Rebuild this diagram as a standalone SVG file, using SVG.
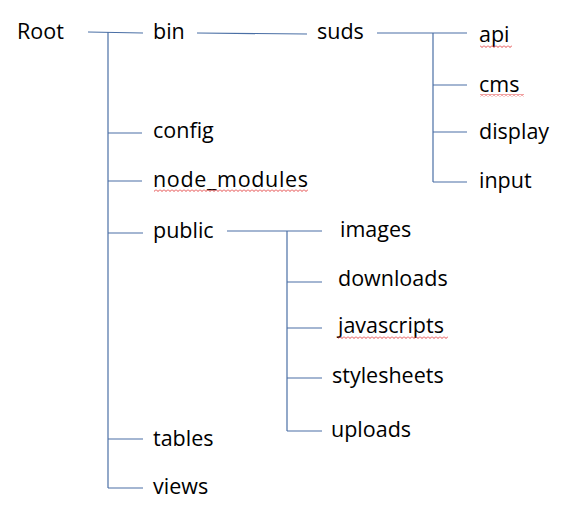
<svg xmlns="http://www.w3.org/2000/svg" width="565" height="524" viewBox="0 0 565 524">
<defs>
<pattern id="sq" patternUnits="userSpaceOnUse" x="0" y="0" width="4" height="3">
<path d="M0 0.5 L2 2.5 L4 0.5" stroke="#e03030" stroke-width="0.9" fill="none"/>
</pattern>
</defs>
<style>
text{font-family:"Open Sans","Noto Sans",sans-serif;font-size:21.5px;fill:#000}
.c line{stroke:#4a6fa5;stroke-width:1.2;fill:none}
.sq{fill:url(#sq)}
</style>
<rect width="565" height="524" fill="#fff"/>
<g class="c" id="connectors">
<line x1="88" y1="32" x2="143" y2="33"/>
<line x1="108" y1="32" x2="108" y2="488"/>
<line x1="108" y1="133" x2="142" y2="133"/>
<line x1="108" y1="181" x2="142" y2="181"/>
<line x1="108" y1="233" x2="143" y2="233"/>
<line x1="108" y1="439" x2="143" y2="439"/>
<line x1="108" y1="488" x2="143" y2="488"/>
<line x1="197" y1="33" x2="307" y2="34"/>
<line x1="377" y1="33" x2="467" y2="33"/>
<line x1="433" y1="33" x2="433" y2="182"/>
<line x1="433" y1="85" x2="467" y2="85"/>
<line x1="433" y1="132" x2="467" y2="132"/>
<line x1="433" y1="182" x2="467" y2="182"/>
<line x1="227" y1="231" x2="322" y2="231"/>
<line x1="287" y1="231" x2="287" y2="431"/>
<line x1="287" y1="282" x2="322" y2="282"/>
<line x1="287" y1="328" x2="322" y2="328"/>
<line x1="287" y1="378" x2="322" y2="378"/>
<line x1="287" y1="431" x2="322" y2="431"/>
</g>
<g id="root"><text x="17" y="39">Root</text></g>
<g id="bin"><text x="153" y="39">bin</text></g>
<g id="suds"><text x="317" y="39">suds</text></g>
<g id="api"><text x="479" y="42">api</text><rect class="sq" x="480" y="45" width="32" height="3"/></g>
<g id="cms"><text x="479" y="92">cms</text><rect class="sq" x="480" y="94" width="44" height="3"/></g>
<g id="display"><text x="479" y="139">display</text></g>
<g id="input"><text x="479" y="188">input</text></g>
<g id="config"><text x="153" y="138">config</text></g>
<g id="node_modules"><text x="153" y="187" textLength="155" lengthAdjust="spacing">node_modules</text><rect class="sq" x="154" y="189" width="154" height="3"/></g>
<g id="public"><text x="153" y="238">public</text></g>
<g id="images"><text x="340" y="237">images</text></g>
<g id="downloads"><text x="338" y="286">downloads</text></g>
<g id="javascripts"><text x="338" y="333">javascripts</text><rect class="sq" x="338" y="336" width="110" height="3"/></g>
<g id="stylesheets"><text x="332" y="383">stylesheets</text></g>
<g id="uploads"><text x="331" y="437">uploads</text></g>
<g id="tables"><text x="153" y="446">tables</text></g>
<g id="views"><text x="153" y="494">views</text></g>
</svg>
